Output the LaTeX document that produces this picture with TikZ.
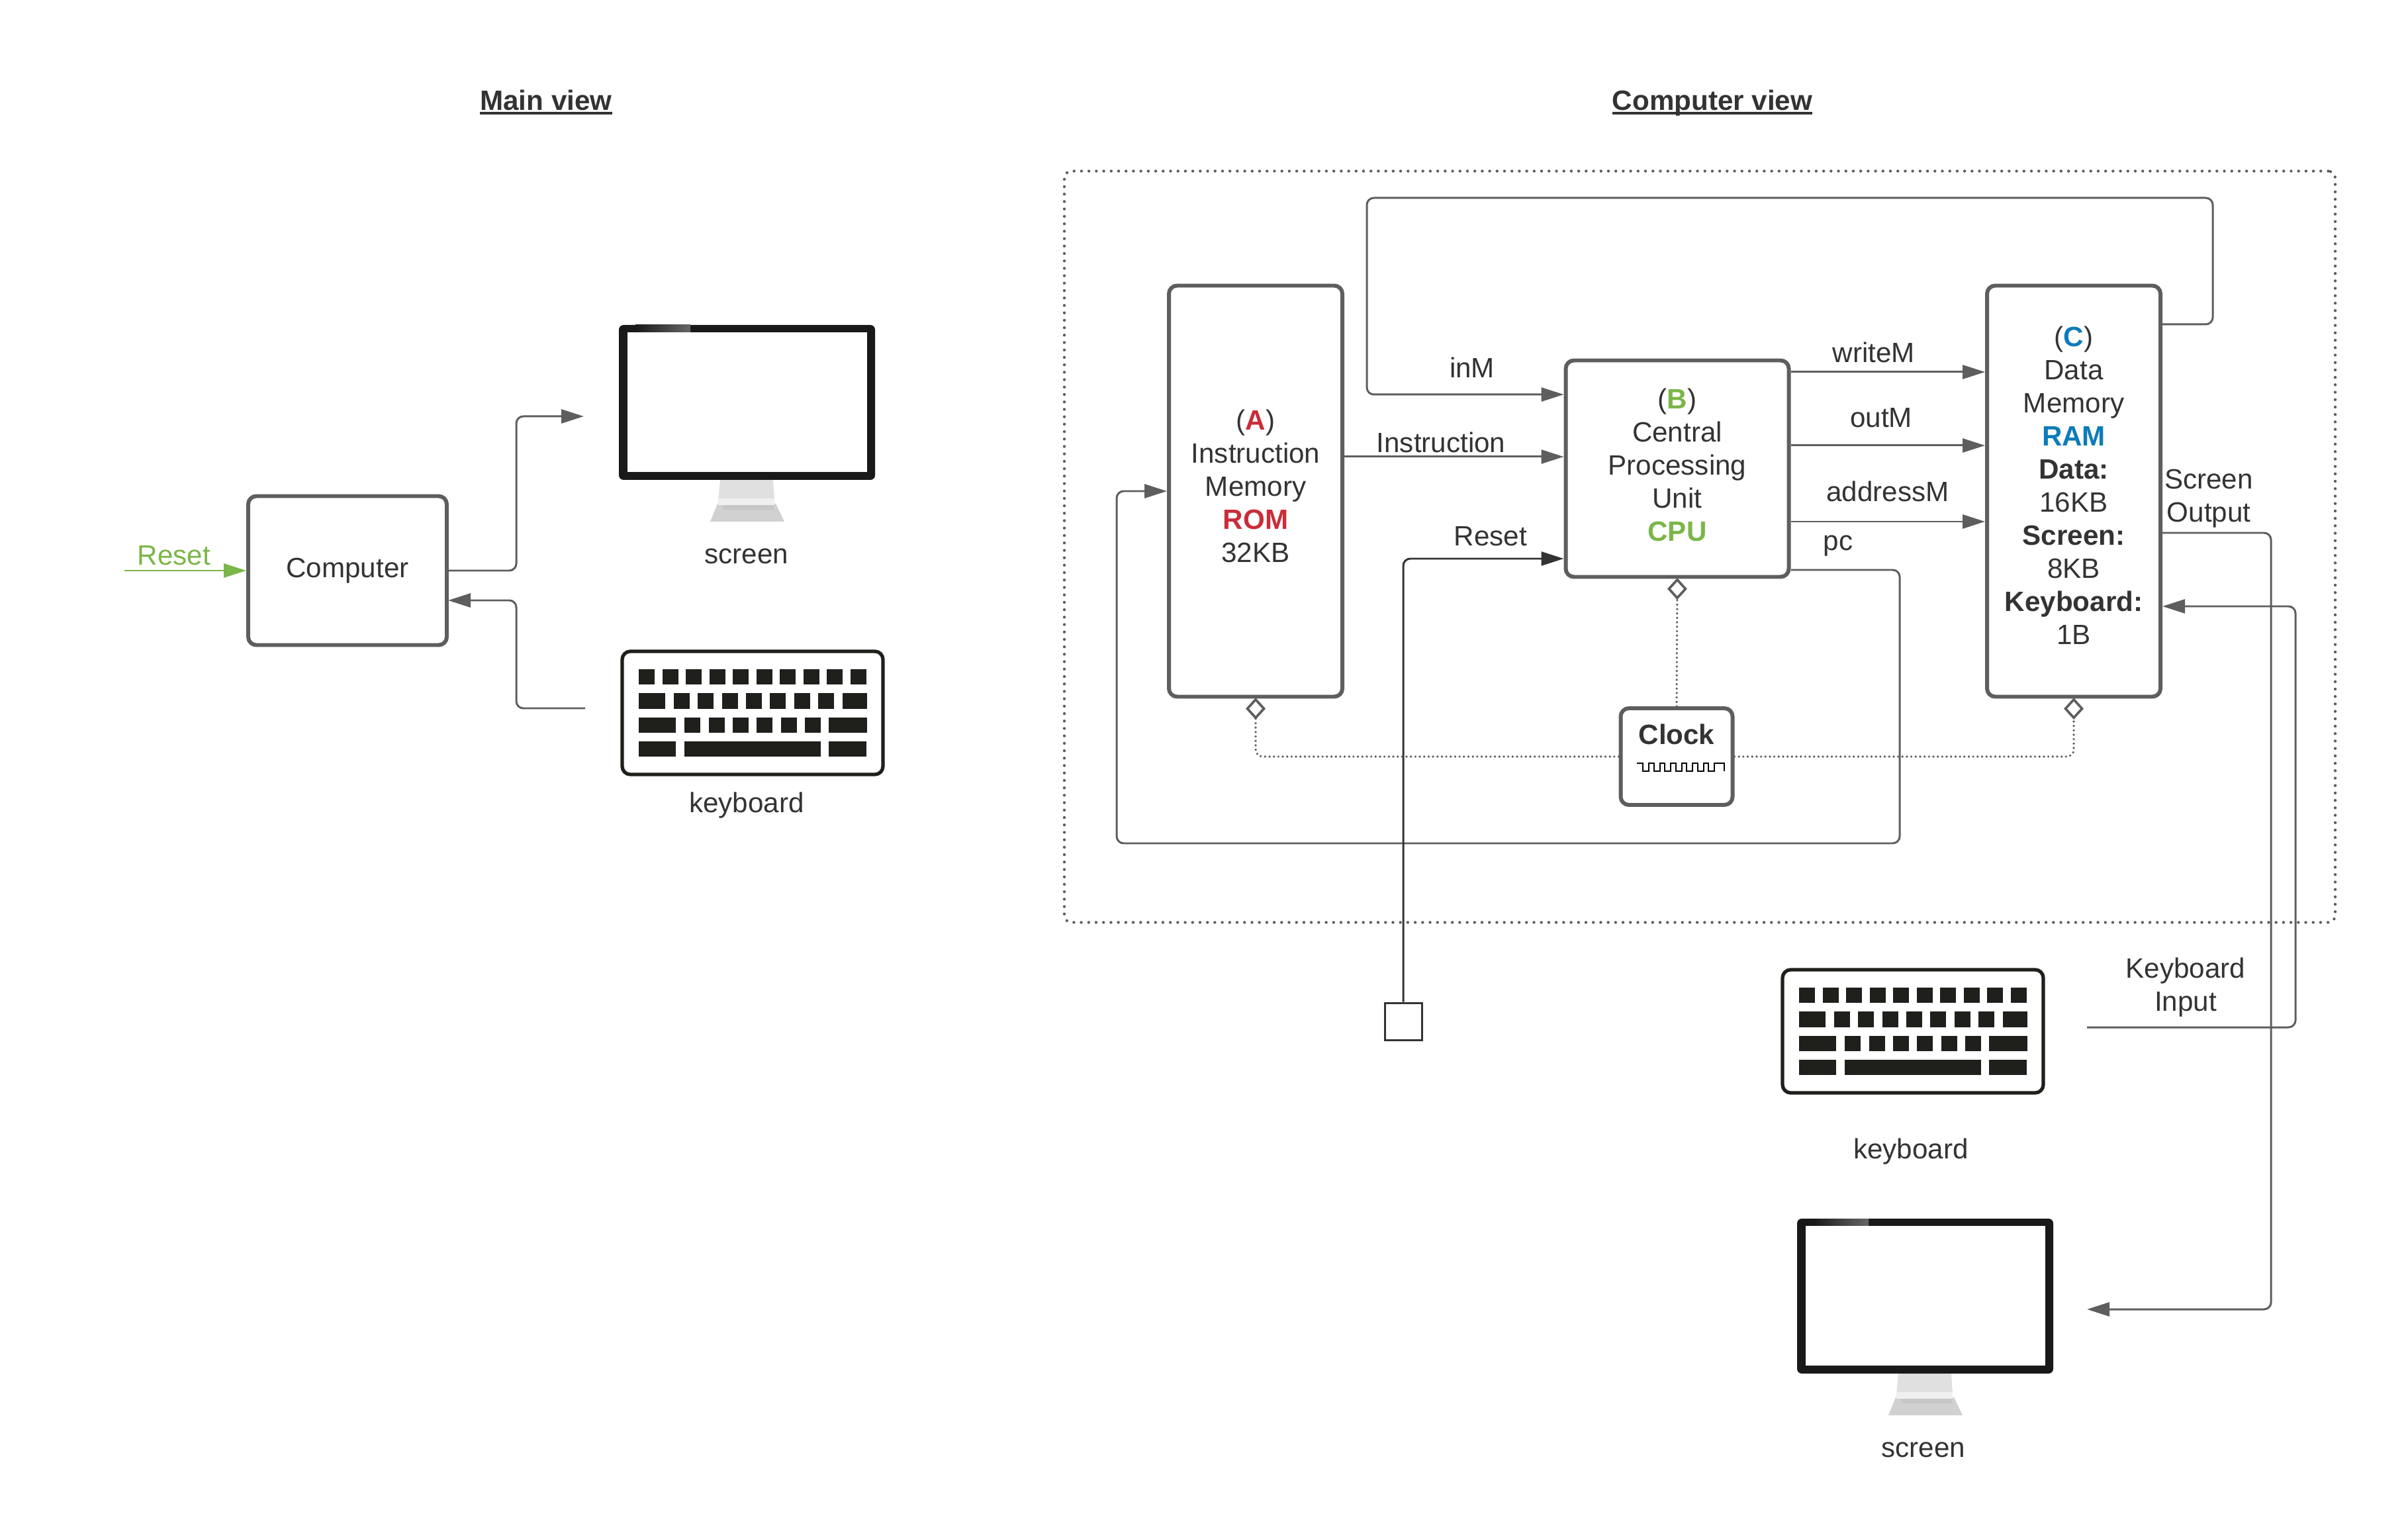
\documentclass[tikz,border=0pt]{standalone}
\usepackage{fontspec}
\setmainfont{Liberation Sans}
\usetikzlibrary{arrows.meta}
\definecolor{wirecol}{HTML}{5E5E5E}
\definecolor{txtcol}{HTML}{333333}
\definecolor{keycol}{HTML}{1F1F1B}
\definecolor{romcol}{HTML}{C92D39}
\definecolor{cpucol}{HTML}{7AB648}
\definecolor{ramcol}{HTML}{0C7CBA}
\newcommand{\ultitle}[1]{\setbox0\hbox{\textbf{#1}}\rlap{\textbf{#1}}\rule[-1.6pt]{\wd0}{.95pt}}
\tikzset{every node/.style={text=txtcol, inner sep=0mm, font=\fontsize{12}{14.2}\selectfont, align=center}}
\tikzset{unit/.style={draw=wirecol, line width=1.7pt, rounded corners=3.5pt, fill=white}}
\tikzset{wire/.style={draw=wirecol, line width=.85pt, rounded corners=3pt}}
\tikzset{arr/.style={wire, -{Triangle[length=3.4mm, width=2.1mm]}}}
\tikzset{clk/.style={draw=wirecol, line width=1.05pt, line cap=round, rounded corners=3pt, dash pattern=on 0pt off 1.9pt, shorten >=-.4pt, -{Diamond[open, length=3.3mm, width=3mm, sep=0pt]}}}
\tikzset{
  pics/keyboard/.style={code={
    \draw[keycol, line width=1.5pt, rounded corners=3.5pt, fill=white] (.02,.02) rectangle (3.96,1.88);
    \foreach \k in {0,...,9} \fill[keycol] (.273+.355*\k,.287) rectangle +(.24,.233);
    \fill[keycol] (.273,.65) rectangle (.67,.887);
    \foreach \k in {0,...,6} \fill[keycol] (.797+.3643*\k,.65) rectangle +(.24,.237);
    \fill[keycol] (3.347,.65) rectangle (3.717,.887);
    \fill[keycol] (.273,1.017) rectangle (.833,1.25);
    \foreach \k in {0,...,5} \fill[keycol] (.963+.3633*\k,1.017) rectangle +(.24,.233);
    \fill[keycol] (3.143,1.017) rectangle (3.717,1.25);
    \fill[keycol] (.273,1.383) rectangle (.833,1.613);
    \fill[keycol] (.957,1.383) rectangle (3.023,1.613);
    \fill[keycol] (3.143,1.383) rectangle (3.707,1.613);
  }},
  pics/monitor/.style={code={
    \fill[black!12] (1.53,2.34) -- (2.33,2.34) -- (2.35,2.65) -- (1.50,2.65) -- cycle;
    \fill[black!18] (1.49,2.70) -- (2.37,2.70) -- (2.50,2.97) -- (1.38,2.97) -- cycle;
    \fill[black!6] (1.50,2.62) rectangle (2.35,2.72);
    \fill[black!22] (1.57,2.72) rectangle (2.34,2.79);
    \fill[black!90, rounded corners=2pt] (0,0) rectangle (3.87,2.34);
    \shade[left color=black!90, right color=black!60] (.25,0) rectangle (1.08,.11);
    \fill[white] (.13,.11) rectangle (3.75,2.22);
  }}
}

\begin{document}
\begin{tikzpicture}[y=-1cm]
  \useasboundingbox (0,0) rectangle (36.38,23.25);

  \node (mainTitle) [anchor=base] at (8.25,1.67) {\ultitle{Main view}};
  \node (compTitle) [anchor=base] at (25.87,1.67) {\ultitle{Computer view}};
  \node (frame) [draw=wirecol, line width=1.25pt, line cap=round, dash pattern=on 0pt off 3.19pt, rounded corners=3pt, minimum width=19.2cm, minimum height=11.35cm] at (25.68,8.26) {};

  \node (comp) [unit, minimum width=3cm, minimum height=2.25cm] at (5.25,8.62) {Computer};
  \coordinate (resetIn) at (1.88,8.62);
  \node (resetLbl) [text=cpucol] at (2.63,8.39) {Reset};
  \draw[arr, draw=cpucol] (resetIn) -- (comp.west);

  \pic (screenA) at (9.35,4.91) {monitor};
  \node (screenALbl) at (11.28,8.40) {screen};
  \pic (keysA) at (9.38,9.82) {keyboard};
  \node (keysALbl) at (11.28,12.17) {keyboard};
  \coordinate (screenAIn) at (8.82,6.29);
  \coordinate (keysAOut) at (8.84,10.70);
  \draw[arr] (comp.east) -- (7.8,8.62) -- (7.8,6.29) -- (screenAIn);
  \draw[arr] (keysAOut) -- (7.8,10.70) -- (7.8,9.07) -- (6.77,9.07);

  \node (rom) [unit, text depth=4.6pt, minimum width=2.62cm, minimum height=6.21cm] at (18.97,7.42) {(\textcolor{romcol}{\textbf{A}})\\Instruction\\Memory\\\textcolor{romcol}{\textbf{ROM}}\\32KB};
  \node (cpu) [unit, text depth=3.4pt, minimum width=3.37cm, minimum height=3.27cm] at (25.34,7.08) {(\textcolor{cpucol}{\textbf{B}})\\Central\\Processing\\Unit\\\textcolor{cpucol}{\textbf{CPU}}};
  \node (ram) [unit, text depth=5pt, minimum width=2.62cm, minimum height=6.21cm] at (31.33,7.42) {(\textcolor{ramcol}{\textbf{C}})\\Data\\Memory\\\textcolor{ramcol}{\textbf{RAM}}\\\textbf{Data:}\\16KB\\\textbf{Screen:}\\8KB\\\textbf{Keyboard:}\\1B};
  \node (clock) [unit, minimum width=1.69cm, minimum height=1.46cm] at (25.33,11.43) {};
  \node (clockLbl) at (25.33,11.09) {\textbf{Clock}};
  \draw[black, line width=.55pt] (24.73,11.53) -- (24.82,11.53)
    \foreach \k in {0,...,6} { -- ++(0,.12) -- ++(.09,0) -- ++(0,-.12) -- ++(.075,0) } -- ++(.07,0) -- ++(0,.12);

  \node (inMLbl) at (22.24,5.55) {inM};
  \node (instLbl) at (21.77,6.68) {Instruction};
  \node (resetBLbl) at (22.52,8.10) {Reset};
  \node (writeLbl) at (28.31,5.32) {writeM};
  \node (outLbl) at (28.42,6.31) {outM};
  \node (addrLbl) at (28.52,7.42) {addressM};
  \node (pcLbl) at (27.77,8.25) {pc};
  \node (scrOutLbl) at (33.37,7.53) {Screen\\Output};
  \node (keyInLbl) at (33.02,14.92) {Keyboard\\Input};

  \draw[arr] (ram.east |- 0,4.90) -- (33.43,4.90) -- (33.43,2.99) -- (20.65,2.99) -- (20.65,5.96) -- (cpu.west |- 0,5.96);
  \draw[arr] (rom.east |- 0,6.90) -- (cpu.west |- 0,6.90);
  \draw[arr] (cpu.east |- 0,5.62) -- (ram.west |- 0,5.62);
  \draw[arr] (cpu.east |- 0,6.73) -- (ram.west |- 0,6.73);
  \draw[arr] (cpu.east |- 0,7.88) -- (ram.west |- 0,7.88);
  \draw[arr] (cpu.east |- 0,8.61) -- (28.70,8.61) -- (28.70,12.74) -- (16.87,12.74) -- (16.87,7.42) -- (rom.west);

  \node (resetBox) [draw=txtcol, line width=.85pt, minimum size=.56cm] at (21.2,15.43) {};
  \draw[arr, draw=txtcol] (resetBox.north) -- (21.2,8.44) -- (cpu.west |- 0,8.44);

  \draw[clk] (clock.north) -- (cpu.south);
  \draw[clk] (clock.west) -| (rom.south);
  \draw[clk] (clock.east) -| (ram.south);

  \pic (keysB) at (26.91,14.63) {keyboard};
  \node (keysBLbl) at (28.87,17.40) {keyboard};
  \pic (screenB) at (27.15,18.41) {monitor};
  \node (screenBLbl) at (29.06,21.90) {screen};
  \coordinate (keysBOut) at (31.53,15.52);
  \coordinate (screenBIn) at (31.53,19.78);
  \draw[arr] (ram.east |- 0,8.05) -- (34.31,8.05) -- (34.31,19.78) -- (screenBIn);
  \draw[arr] (keysBOut) -- (34.68,15.52) -- (34.68,9.16) -- (ram.east |- 0,9.16);
\end{tikzpicture}
\end{document}
